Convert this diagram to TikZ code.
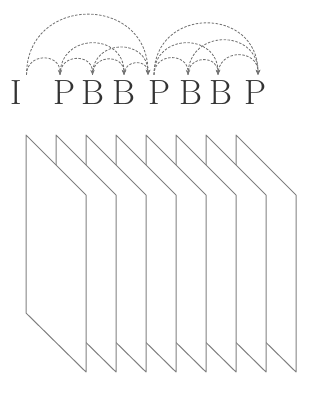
\documentclass[tikz,border=0pt]{standalone}
\usetikzlibrary{arrows.meta}
\begin{document}
\begin{tikzpicture}[x=1pt, y=1pt,
    lbl/.style={inner sep=0pt, anchor=base, font=\fontsize{35}{40}\selectfont, text=black!80},
    ref/.style={draw=black!55, dash pattern=on 2.5pt off 1.5pt, line width=0.85pt,
                -{Stealth[length=5pt, width=4.5pt]}, out=90, in=90, looseness=1.7},
    frm/.style={draw=black!50, fill=white, line width=1pt, line join=round}]
  \useasboundingbox (0,0) rectangle (335,-397);
  % frames, back one first
  \foreach \k in {7,6,...,0}
    \draw[frm] (26+30*\k,-135) -- (86+30*\k,-195) -- (86+30*\k,-372) -- (26+30*\k,-313) -- cycle;
  % frame types
  \node[lbl] (I)  at (16.5,-104) {I};
  \node[lbl] (P1) at (64,-104)   {P};
  \node[lbl] (B2) at (92.5,-104) {B};
  \node[lbl] (B3) at (124,-104)  {B};
  \node[lbl] (P4) at (159,-104)  {P};
  \node[lbl] (B5) at (191,-104)  {B};
  \node[lbl] (B6) at (221,-104)  {B};
  \node[lbl] (P7) at (255,-104)  {P};
  % arc ends
  \coordinate (aI)  at ([xshift=10pt, yshift=5pt]I.north);
  \coordinate (aP1) at ([xshift=-4pt, yshift=5pt]P1.north);
  \coordinate (aB2) at ([yshift=5pt]B2.north);
  \coordinate (aB3) at ([yshift=5pt]B3.north);
  \coordinate (aP4) at ([xshift=-11pt, yshift=5pt]P4.north);
  \coordinate (bP4) at ([xshift=-5pt, yshift=5pt]P4.north);
  \coordinate (aB5) at ([xshift=-3pt, yshift=5pt]B5.north);
  \coordinate (aB6) at ([xshift=-3pt, yshift=5pt]B6.north);
  \coordinate (aP7) at ([xshift=3pt, yshift=5pt]P7.north);
  % references, first group
  \draw[ref] (aI) to (aP4);
  \draw[ref] (aI) to (aP1);
  \draw[ref] (aP1) to (aB2);
  \draw[ref] (aB2) to (aB3);
  \draw[ref] (aB3) to (aP4);
  \draw[ref] (aP1) to (aB3);
  \draw[ref] (aB2) to (aP4);
  % references, second group
  \draw[ref] (bP4) to (aP7);
  \draw[ref] (bP4) to (aB5);
  \draw[ref] (aB5) to (aB6);
  \draw[ref] (aB6) to (aP7);
  \draw[ref] (bP4) to (aB6);
  \draw[ref] (aB5) to (aP7);
\end{tikzpicture}
\end{document}
